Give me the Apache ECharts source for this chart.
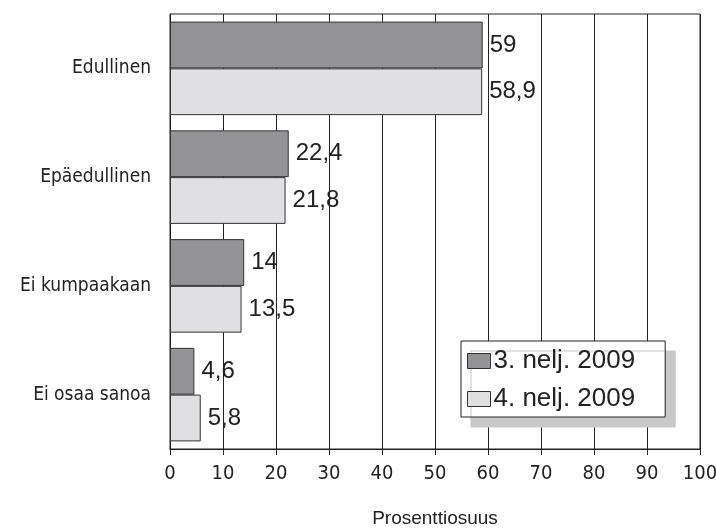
<!DOCTYPE html>
<html>
<head>
<meta charset="utf-8">
<script src="https://cdn.jsdelivr.net/npm/echarts@6/dist/echarts.min.js"></script>
<style>
  html, body { margin: 0; padding: 0; background: #fff; }
  #chart { width: 716px; height: 532px; }
</style>
</head>
<body>
<div id="chart"></div>
<script>
var categories = ['Edullinen', 'Epäedullinen', 'Ei kumpaakaan', 'Ei osaa sanoa'];
var seriesNames = ['3. nelj. 2009', '4. nelj. 2009'];
var q3Values = [59, 22.4, 14, 4.6];
var q4Values = [58.9, 21.8, 13.5, 5.8];

var narrow = "'Liberation Sans Narrow', 'DejaVu Sans Condensed', sans-serif";
var plain = "'Liberation Sans', Arial, sans-serif";

function commaLabel(p) {
  return String(p.value).replace('.', ',');
}

var chart = echarts.init(document.getElementById('chart'));
chart.setOption({
  backgroundColor: '#ffffff',
  animation: false,
  grid: {
    left: 170, right: 16, top: 14, bottom: 83,
    outerBoundsMode: 'none',
    containLabel: false,
    show: true, borderColor: '#222', borderWidth: 1
  },
  legend: {
    orient: 'vertical',
    left: 461, top: 341,
    padding: [7, 30, 5, 6],
    itemGap: 12,
    itemWidth: 23, itemHeight: 15,
    icon: 'rect',
    backgroundColor: '#fff',
    borderColor: '#222', borderWidth: 1,
    shadowColor: '#c8c8c8', shadowBlur: 0, shadowOffsetX: 10, shadowOffsetY: 10,
    textStyle: { fontFamily: plain, fontSize: 26, color: '#222', padding: [0, 0, 0, -2] },
    data: seriesNames.map(function (n) {
      return { name: n, itemStyle: { borderColor: '#333', borderWidth: 1 } };
    })
  },
  xAxis: {
    type: 'value',
    min: 0, max: 100, interval: 10,
    name: 'Prosenttiosuus',
    nameLocation: 'middle',
    nameGap: 60,
    nameTextStyle: { fontFamily: plain, fontSize: 19, color: '#222' },
    axisLine: { show: true, lineStyle: { color: '#222', width: 1 } },
    axisTick: { show: true, length: 6, lineStyle: { color: '#222' } },
    axisLabel: { fontFamily: narrow, fontSize: 20, color: '#222', margin: 15 },
    splitLine: { show: true, lineStyle: { color: '#222', width: 1 } }
  },
  yAxis: {
    type: 'category',
    data: categories,
    inverse: true,
    axisLine: { show: true, lineStyle: { color: '#222', width: 1 } },
    axisTick: { show: false },
    axisLabel: { fontFamily: narrow, fontSize: 19, color: '#222', margin: 19 }
  },
  series: [
    {
      name: seriesNames[0],
      type: 'bar',
      data: q3Values,
      barGap: '0%',
      barCategoryGap: '14%',
      itemStyle: { color: '#939396', borderColor: '#333', borderWidth: 1 },
      label: { show: true, position: 'right', distance: 7, formatter: commaLabel,
        fontFamily: plain, fontSize: 24, color: '#222' }
    },
    {
      name: seriesNames[1],
      type: 'bar',
      data: q4Values,
      barGap: '0%',
      barCategoryGap: '14%',
      itemStyle: { color: '#e0e0e2', borderColor: '#333', borderWidth: 1 },
      label: { show: true, position: 'right', distance: 7, formatter: commaLabel,
        fontFamily: plain, fontSize: 24, color: '#222' }
    }
  ]
});
</script>
</body>
</html>
